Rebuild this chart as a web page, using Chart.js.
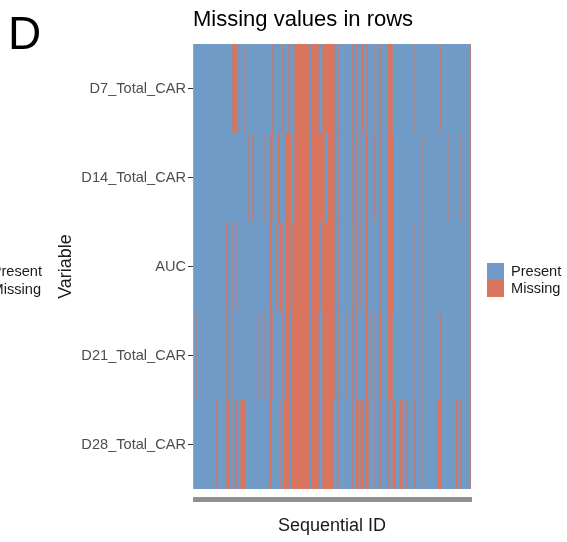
<!DOCTYPE html>
<html lang="en">
<head>
<meta charset="UTF-8">
<title>Missing values in rows</title>
<script src="https://cdn.jsdelivr.net/npm/chart.js"></script>
<style>
  html, body { margin: 0; padding: 0; background: #fff; }
</style>
</head>
<body>
<canvas id="missChart" width="567" height="542"></canvas>
<script>
const panelLetter = 'D';
const chartTitle = 'Missing values in rows';
const variables = ['D7_Total_CAR', 'D14_Total_CAR', 'AUC', 'D21_Total_CAR', 'D28_Total_CAR'];
const statusLabels = ['Present', 'Missing'];
const idCount = 278;

// missing stretches per variable, [from, to) in sequential ID
const missD7 = [[14,15],[30,31],[39,45],[46,47],[51,52],[60,61],[76,77],[79,81],[84,85],[89,91],[95,97],[101,117],[118,126],[129,142],[144,146],[159,161],[162,164],[166,167],[168,171],[173,175],[181,182],[187,189],[194,200],[221,222],[247,249],[262,263],[277,278]];
const missD14 = [[14,15],[28,29],[38,39],[42,43],[55,56],[59,61],[71,72],[77,80],[84,87],[92,99],[101,117],[118,132],[134,142],[144,146],[159,161],[162,164],[167,168],[172,175],[180,182],[187,189],[194,201],[229,230],[238,239],[255,256],[267,268],[277,278]];
const missAUC = [[14,15],[33,35],[39,40],[43,44],[48,49],[56,57],[60,61],[76,79],[82,84],[86,90],[92,98],[99,117],[118,127],[128,142],[144,146],[159,161],[162,164],[166,168],[172,175],[187,189],[194,201],[221,222],[229,230],[238,239],[262,263],[277,278]];
const missD21 = [[3,4],[14,15],[33,35],[39,40],[48,49],[56,57],[60,61],[65,66],[71,72],[77,80],[84,85],[89,91],[92,97],[98,117],[118,126],[129,142],[144,146],[153,154],[159,161],[162,164],[172,175],[177,178],[181,182],[186,189],[194,200],[221,222],[229,230],[238,239],[247,249],[264,265],[277,278]];
const missD28 = [[14,15],[23,25],[33,37],[39,40],[42,44],[47,53],[56,57],[60,61],[76,79],[86,88],[90,97],[98,117],[118,126],[129,141],[144,146],[159,161],[162,166],[167,171],[172,176],[181,182],[187,189],[194,196],[199,203],[206,210],[213,215],[221,223],[229,230],[238,239],[244,249],[262,265],[267,269],[277,278]];

const blue = '#6F9BC6';
const red = '#D9755F';
const fontFamily = '"Liberation Sans", Arial, Helvetica, sans-serif';
Chart.defaults.font.family = fontFamily;

// turn the missing stretches into floating bars, present = the gaps between them
const missingRuns = [missD7, missD14, missAUC, missD21, missD28];
const presentBars = [];
const missingBars = [];
variables.forEach((name, i) => {
    let pos = 0;
    missingRuns[i].forEach(([from, to]) => {
        if (from > pos) presentBars.push({ y: name, x: [pos, from] });
        missingBars.push({ y: name, x: [from, to] });
        pos = to;
    });
    if (pos < idCount) presentBars.push({ y: name, x: [pos, idCount] });
});

// panel letter, title, the clipped legend of the neighbour panel and our own legend
const decorations = {
    id: 'decorations',
    afterDraw(chart) {
        const ctx = chart.ctx;
        const area = chart.chartArea;
        ctx.save();
        ctx.fillStyle = '#000';
        ctx.textBaseline = 'alphabetic';
        ctx.font = '46px ' + fontFamily;
        ctx.fillText(panelLetter, 8, 49);
        ctx.font = '22px ' + fontFamily;
        ctx.fillText(chartTitle, area.left, 26);

        ctx.font = '14.6px ' + fontFamily;
        ctx.textBaseline = 'middle';
        ctx.fillStyle = '#1a1a1a';
        ctx.textAlign = 'right';
        ctx.fillText(statusLabels[0], 42, 272);
        ctx.fillText(statusLabels[1], 41, 289.5);

        ctx.textAlign = 'left';
        chart.data.datasets.forEach((ds, i) => {
            const y = 263 + i * 17;
            ctx.fillStyle = ds.backgroundColor;
            ctx.fillRect(area.right + 16, y, 17, 17);
            ctx.fillStyle = '#1a1a1a';
            ctx.fillText(ds.label, area.right + 40, y + 9);
        });
        ctx.restore();
    }
};

new Chart(document.getElementById('missChart'), {
    type: 'bar',
    data: {
        labels: variables,
        datasets: [
            { label: statusLabels[0], data: presentBars, backgroundColor: blue },
            { label: statusLabels[1], data: missingBars, backgroundColor: red }
        ]
    },
    options: {
        indexAxis: 'y',
        responsive: false,
        animation: false,
        devicePixelRatio: 1,
        layout: { padding: { left: 55, top: 44, right: 96, bottom: 5 } },
        datasets: {
            bar: { grouped: false, barPercentage: 1, categoryPercentage: 1, borderWidth: 0 }
        },
        plugins: {
            legend: { display: false },
            tooltip: { enabled: false }
        },
        scales: {
            x: {
                type: 'linear',
                min: 0,
                max: idCount,
                border: { display: false },
                grid: {
                    drawOnChartArea: false,
                    drawTicks: true,
                    tickLength: 13,
                    tickBorderDash: [0, 8, 5, 20],
                    tickColor: '#444',
                    tickWidth: 0.6
                },
                ticks: { display: false, stepSize: 1 },
                title: {
                    display: true,
                    text: 'Sequential ID',
                    color: '#1a1a1a',
                    font: { size: 18 },
                    padding: { top: 0, bottom: 0 }
                },
                afterFit(scale) { scale.height = 48; }
            },
            y: {
                type: 'category',
                border: { display: false },
                grid: {
                    offset: false,
                    drawOnChartArea: false,
                    drawTicks: true,
                    tickLength: 5,
                    tickColor: '#333',
                    tickWidth: 1
                },
                ticks: { color: '#4D4D4D', font: { size: 14.6 }, padding: 2 },
                title: {
                    display: true,
                    text: 'Variable',
                    color: '#1a1a1a',
                    font: { size: 18 },
                    padding: { top: 0, bottom: 0 }
                },
                afterFit(scale) { scale.width = 138; }
            }
        }
    },
    plugins: [decorations]
});
</script>
</body>
</html>
